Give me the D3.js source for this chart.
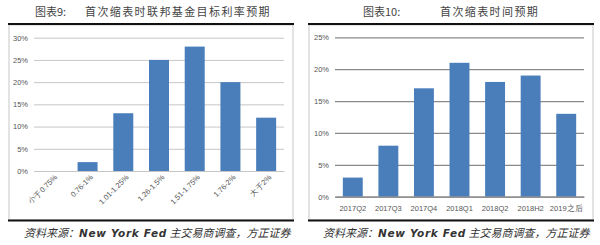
<!DOCTYPE html>
<html><head><meta charset="utf-8">
<script src="https://cdn.jsdelivr.net/npm/d3@7"></script>
<style>body{margin:0;background:#fff}svg{display:block}</style>
</head><body>
<svg id="c" width="600" height="245"></svg>
<script>
const cats1 = ["小于0.75%","0.76-1%","1.01-1.25%","1.26-1.5%","1.51-1.75%","1.76-2%","大于2%"];
const vals1 = [0,2,13,25,28,20,12];
const ticks1 = [0,5,10,15,20,25,30];
const title1a = "图表9:";
const title1b = "首次缩表时联邦基金目标利率预期";

const cats2 = ["2017Q2","2017Q3","2017Q4","2018Q1","2018Q2","2018H2","2019之后"];
const vals2 = [3,8,17,21,18,19,13];
const ticks2 = [0,5,10,15,20,25];
const title2a = "图表10:";
const title2b = "首次缩表时间预期";

const source = ["资料来源：","New York Fed"," 主交易商调查，方正证券"];

const svg = d3.select("#c");
const blue = "#4a7ebb";
const cjk = "'Noto Sans CJK SC', sans-serif";

function panel(o){
  const g = svg.append("g");
  g.append("rect").attr("x",o.bx0).attr("y",25).attr("width",o.bx1-o.bx0).attr("height",195)
    .attr("fill","#fff").attr("stroke","#c8c8c8").attr("stroke-width",1);
  g.append("line").attr("x1",o.bx0-1).attr("x2",o.bx1+1).attr("y1",24).attr("y2",24)
    .attr("stroke","#111").attr("stroke-width",2.2);
  g.append("line").attr("x1",o.bx0-1).attr("x2",o.bx1+1).attr("y1",220.5).attr("y2",220.5)
    .attr("stroke","#111").attr("stroke-width",2.2);
  g.append("text").attr("x",o.ta).attr("y",16).attr("font-family",cjk).attr("font-size",11)
    .attr("fill","#444").text(o.t1);
  g.append("text").attr("x",o.tb).attr("y",16).attr("font-family",cjk).attr("font-size",11)
    .attr("letter-spacing",1.4).attr("fill","#444").text(o.t2);

  const x = d3.scaleBand().domain(o.cats).range([o.x0,o.x1]).paddingInner(0.44).paddingOuter(0.22);
  const y = d3.scaleLinear().domain([0,o.max]).range([o.y0,o.y1]);

  const yAxis = d3.axisLeft(y).tickValues(o.ticks).tickFormat(d=>d+"%").tickSize(-(o.x1-o.x0)).tickPadding(6);
  const ya = g.append("g").attr("transform",`translate(${o.x0},0)`).call(yAxis);
  ya.select(".domain").remove();
  ya.selectAll(".tick line").attr("stroke",o.grid).attr("stroke-width",o.gw);
  ya.selectAll(".tick text").attr("font-family","'Liberation Sans', Arial, sans-serif").attr("font-size",7.5).attr("fill","#555");

  g.append("g").selectAll("rect").data(o.cats).join("rect")
    .attr("x",d=>x(d)).attr("width",x.bandwidth())
    .attr("y",(d,i)=>y(o.vals[i])).attr("height",(d,i)=>y(0)-y(o.vals[i]))
    .attr("fill",blue);

  const xAxis = d3.axisBottom(x).tickSize(0).tickPadding(o.rot?5:9);
  const xa = g.append("g").attr("transform",`translate(0,${o.y0})`).call(xAxis);
  xa.select(".domain").attr("stroke",o.grid).attr("stroke-width",o.gw);
  xa.selectAll(".tick text").attr("font-family","'Liberation Sans', Arial, sans-serif").attr("font-size",7.5).attr("fill","#555");
  if(o.rot){
    xa.selectAll(".tick text").attr("text-anchor","end").attr("dy","0.35em")
      .attr("transform","translate(4,5) rotate(-45)");
    xa.selectAll(".tick text").attr("y",0).attr("x",0);
  }
  const st = g.append("text").attr("x",o.sx).attr("y",237).attr("font-size",11).attr("font-style","italic")
    .attr("fill","#333");
  st.append("tspan").attr("font-family",cjk).text(source[0]);
  st.append("tspan").attr("font-family","'DejaVu Sans', sans-serif").attr("font-weight","bold").attr("font-size",10.5).attr("letter-spacing",0.7).text(source[1]);
  st.append("tspan").attr("font-family",cjk).text(source[2]);
}

panel({cats:cats1,vals:vals1,ticks:ticks1,max:30,x0:34,x1:284,y0:171,y1:37.7,
  bx0:9,bx1:293,grid:"#c6c6c6",gw:1,rot:true,ta:35,tb:85,t1:title1a,t2:title1b,sx:24});
panel({cats:cats2,vals:vals2,ticks:ticks2,max:25,x0:335,x1:584,y0:196.7,y1:37.3,
  bx0:309,bx1:593,grid:"#8a8a8a",gw:1.3,rot:false,ta:363,tb:440,t1:title2a,t2:title2b,sx:323});
</script>
</body></html>
